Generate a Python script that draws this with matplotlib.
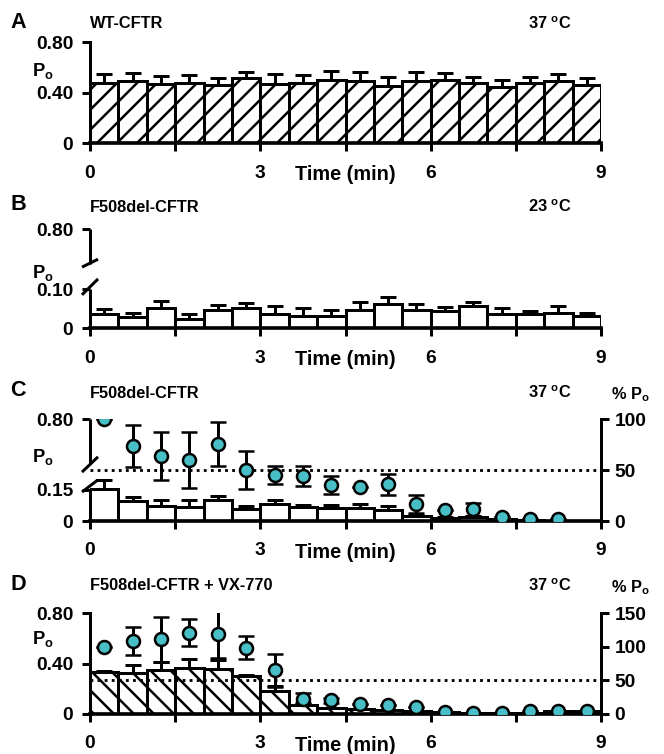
import numpy as np
import matplotlib
matplotlib.use("Agg")
import matplotlib.pyplot as plt

plt.rcParams['font.family'] = ['Liberation Sans', 'DejaVu Sans']
plt.rcParams['font.weight'] = 'bold'
plt.rcParams['mathtext.fontset'] = 'custom'
plt.rcParams['mathtext.bf'] = 'Liberation Sans:bold'
plt.rcParams['mathtext.rm'] = 'Liberation Sans:bold'
plt.rcParams['mathtext.default'] = 'bf'
plt.rcParams['hatch.linewidth'] = 1.5

# time bins (min), 30 s each
bin_start = [0.0, 0.5, 1.0, 1.5, 2.0, 2.5, 3.0, 3.5, 4.0,
             4.5, 5.0, 5.5, 6.0, 6.5, 7.0, 7.5, 8.0, 8.5]

# A: WT-CFTR 37 C, Po mean and SEM
po_a = [0.475, 0.49, 0.467, 0.48, 0.46, 0.515, 0.47, 0.478, 0.50,
        0.496, 0.456, 0.49, 0.50, 0.475, 0.443, 0.475, 0.496, 0.464]
err_a = [0.075, 0.07, 0.063, 0.06, 0.06, 0.052, 0.076, 0.062, 0.073,
         0.071, 0.072, 0.075, 0.06, 0.053, 0.057, 0.053, 0.054, 0.056]

# B: F508del-CFTR 23 C
po_b = [0.037, 0.030, 0.051, 0.023, 0.047, 0.051, 0.037, 0.032, 0.032,
        0.047, 0.062, 0.047, 0.045, 0.057, 0.037, 0.037, 0.040, 0.032]
err_b = [0.012, 0.010, 0.019, 0.013, 0.013, 0.013, 0.019, 0.019, 0.015,
         0.020, 0.017, 0.015, 0.009, 0.010, 0.014, 0.008, 0.016, 0.006]

# C: F508del-CFTR 37 C
po_c = [0.153, 0.095, 0.074, 0.068, 0.100, 0.058, 0.082, 0.066, 0.063,
        0.063, 0.055, 0.024, 0.016, 0.020, 0.008, 0.003, 0.002, 0.002]
err_c = [0.044, 0.020, 0.026, 0.032, 0.020, 0.016, 0.018, 0.010, 0.013,
         0.021, 0.016, 0.006, 0.004, 0.004, 0.002, 0.0, 0.0, 0.0]
pct_c = [100, 73.7, 64, 60, 76, 50, 45.5, 44, 35.5, 33, 36, 16.5,
         10.7, 11.5, 4.2, 2.3, 1.6]
pct_err_c = [0, 21, 24, 27.6, 21.5, 19, 9, 10, 9, 0, 10, 9,
             0, 6.5, 0, 0, 0]

# D: F508del-CFTR + VX-770 37 C
po_d = [0.335, 0.328, 0.348, 0.366, 0.356, 0.302, 0.185, 0.07, 0.05,
        0.04, 0.03, 0.02, 0.015, 0.01, 0.01, 0.005, 0.02, 0.02]
err_d = [0.004, 0.06, 0.065, 0.073, 0.075, 0.008, 0.035, 0.02, 0.0,
         0.0, 0.0, 0.0, 0.0, 0.0, 0.0, 0.0, 0.0, 0.0]
pct_d = [100, 108.9, 111, 121, 118.6, 99, 65, 22.7, 20.3, 15.5, 13,
         9.7, 3, 1.5, 2, 5, 5, 5]
pct_err_d = [0, 21, 33, 20, 35, 17, 25, 8, 4, 0, 0, 0, 0, 0, 0, 0, 0, 0]

teal = '#48BEC6'
W, H, DPI = 664, 754, 120
fig = plt.figure(figsize=(W / DPI, H / DPI), dpi=DPI)
fs = 11.5       # tick labels
fs_t = 9.8      # panel titles
AX_L, AX_R = 90.0, 601.0


def px_axes(top, bottom):
    return fig.add_axes([AX_L / W, 1 - bottom / H, (AX_R - AX_L) / W, (bottom - top) / H])


def broken_scale(vals, fracs):
    vals = np.asarray(vals, float)
    fracs = np.asarray(fracs, float)
    s0 = (fracs[1] - fracs[0]) / (vals[1] - vals[0])
    s1 = (fracs[-1] - fracs[-2]) / (vals[-1] - vals[-2])

    def fwd(y):
        y = np.asarray(y, float)
        out = np.interp(y, vals, fracs)
        out = np.where(y < vals[0], fracs[0] + (y - vals[0]) * s0, out)
        out = np.where(y > vals[-1], fracs[-1] + (y - vals[-1]) * s1, out)
        return out

    def inv(f):
        f = np.asarray(f, float)
        out = np.interp(f, fracs, vals)
        out = np.where(f < fracs[0], vals[0] + (f - fracs[0]) / s0, out)
        out = np.where(f > fracs[-1], vals[-1] + (f - fracs[-1]) / s1, out)
        return out

    return fwd, inv


def base_panel(ax, po, err, yticks, ylabels, hatch=None, po_y=0.7):
    centers = [b + 0.25 for b in bin_start]
    ax.bar(centers, po, width=0.5, facecolor='white', edgecolor='black',
           linewidth=1.8, hatch=hatch, zorder=2)
    ax.errorbar(centers, po, yerr=[np.zeros(len(err)), err], fmt='none',
                ecolor='black', elinewidth=1.8, capsize=4.8, capthick=1.8, zorder=3)
    ax.set_xlim(0, 9)
    ax.set_ylim(0, 0.8)
    for s in ['top', 'right']:
        ax.spines[s].set_visible(False)
    ax.spines['bottom'].set_linewidth(2.2)
    ax.spines['left'].set_linewidth(1.8)
    ax.set_xticks([0, 3, 6, 9])
    ax.set_xticks([1.5, 4.5, 7.5], minor=True)
    ax.tick_params(axis='x', which='both', direction='out', length=4.8, width=1.8,
                   pad=8.0, labelsize=fs)
    ax.set_yticks(yticks, ylabels)
    ax.yaxis.set_minor_locator(matplotlib.ticker.NullLocator())
    ax.tick_params(axis='y', direction='out', length=4.6, width=1.8, pad=5.5,
                   labelsize=fs)
    ax.set_xlabel('Time (min)', fontsize=fs + 0.4, fontweight='bold')
    ax.xaxis.set_label_coords(0.5, -0.215)
    ax.text(-0.092, po_y, r'P$_\mathbf{o}$', transform=ax.transAxes,
            ha='center', va='center', fontsize=fs - 0.5)
    return centers


def draw_break(ax, lower_top, upper_bot, slashes):
    ax.spines['left'].set_visible(False)
    kw = dict(transform=ax.transAxes, color='black', lw=1.8, clip_on=False,
              solid_capstyle='butt')
    ax.plot([0, 0], [0, lower_top], **kw)
    ax.plot([0, 0], [upper_bot, 1], **kw)
    dx = 8 / (AX_R - AX_L)
    for yc, dy in slashes:
        ax.plot([-dx, dx], [yc - dy, yc + dy], **kw)


def pct_overlay(ax, centers, pct, pct_err, top, ticks):
    tw = ax.twinx()
    tw.set_ylim(0, top)
    tw.set_yticks(ticks)
    for s in ['top', 'left', 'bottom']:
        tw.spines[s].set_visible(False)
    tw.spines['right'].set_linewidth(1.8)
    tw.tick_params(axis='y', direction='out', length=4.6, width=1.8, pad=3.5,
                   labelsize=fs)
    tw.axhline(50, color='black', lw=1.7, ls=(0, (1, 1.5)), zorder=1)
    tw.errorbar(centers[:len(pct)], pct, yerr=pct_err, fmt='o', ms=7.8,
                mfc=teal, mec='black', mew=1.5, ecolor='black', elinewidth=1.8,
                capsize=4.8, capthick=1.8, zorder=4)
    return tw


def head(y, letter, title, temp, pct_label=False):
    fig.text(10 / W, 1 - (y - 2) / H, letter, fontsize=13, va='center', ha='left')
    fig.text(90 / W, 1 - y / H, title, fontsize=fs_t, va='center', ha='left')
    fig.text(528 / W, 1 - y / H, r'%s $^\mathbf{o}$C' % temp, fontsize=fs_t,
             va='center', ha='left')
    if pct_label:
        fig.text(611 / W, 1 - (y + 2) / H, r'% P$_\mathbf{o}$', fontsize=fs_t,
                 va='center', ha='left')


# panel A
ax_a = px_axes(42.3, 143.3)
base_panel(ax_a, po_a, err_a, [0, 0.4, 0.8], ['0', '0.40', '0.80'], hatch='//', po_y=0.72)
head(24, 'A', 'WT-CFTR', '37')

# panel B
ax_b = px_axes(229, 328.3)
fb, ib = broken_scale([0, 0.10, 0.70, 0.80], [0, 0.393, 0.656, 1.0])
ax_b.set_yscale('function', functions=(fb, ib))
base_panel(ax_b, po_b, err_b, [0, 0.10, 0.80], ['0', '0.10', '0.80'], po_y=0.56)
ax_b.set_ylim(0, 0.8)
draw_break(ax_b, 0.40, 0.65, [(0.417, 0.08), (0.656, 0.04)])
head(207, 'B', 'F508del-CFTR', '23')

# panel C
ax_c = px_axes(419.3, 521)
fc, ic = broken_scale([0, 0.20, 0.70, 0.80], [0, 0.4067, 0.556, 1.0])
ax_c.set_yscale('function', functions=(fc, ic))
cen_c = base_panel(ax_c, po_c, err_c, [0, 0.15, 0.80], ['0', '0.15', '0.80'], po_y=0.63)
ax_c.set_ylim(0, 0.8)
draw_break(ax_c, 0.31, 0.57, [(0.345, 0.06), (0.556, 0.075)])
pct_overlay(ax_c, cen_c, pct_c, pct_err_c, 100, [0, 50, 100])
head(393, 'C', 'F508del-CFTR', '37', pct_label=True)

# panel D
ax_d = px_axes(613.3, 714)
cen_d = base_panel(ax_d, po_d, err_d, [0, 0.4, 0.8], ['0', '0.40', '0.80'],
                   hatch='\\\\', po_y=0.74)
pct_overlay(ax_d, cen_d, pct_d, pct_err_d, 150, [0, 50, 100, 150])
head(586, 'D', 'F508del-CFTR + VX-770', '37', pct_label=True)

fig.savefig('out.png', dpi=DPI)
